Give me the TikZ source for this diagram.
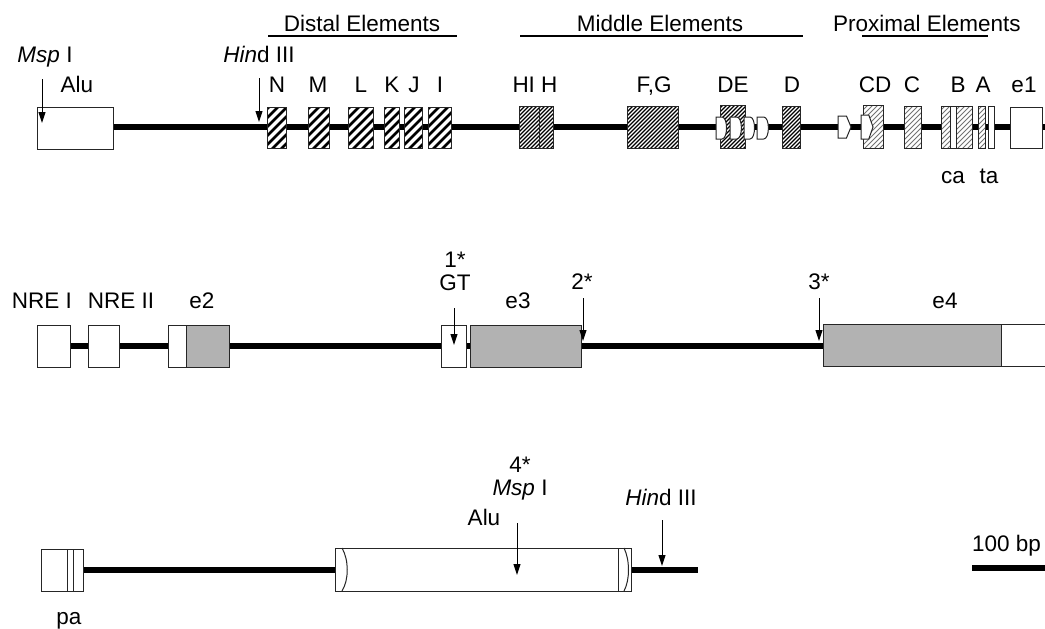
\documentclass[tikz,border=0pt]{standalone}
\usepackage{fontspec}
\setmainfont{Liberation Sans}
\usetikzlibrary{arrows.meta}
\tikzset{
 lbl/.style={anchor=base, inner sep=0pt, font=\fontsize{22.5}{26}\selectfont},
 backbone/.style={line width=5.5pt},
 box/.style={draw=black!85, line width=1pt},
 wbox/.style={box, fill=white},
 gbox/.style={box, fill=gray!60},
 site/.style={line width=1pt, -{Triangle[length=11pt,width=7pt]}},
 hdistal/.style={line width=2.6pt, black},
 hmiddle/.style={line width=1.1pt, black},
 hprox/.style={line width=1pt, black!55},
 ruler/.style={line width=1.5pt},
}
% #1 x1, #2 y1, #3 x2, #4 y2, #5 spacing, #6 hatch style
\newcommand\hatchrect[6]{%
 \begin{scope}
 \clip (#1,#2) rectangle (#3,#4);
 \fill[white] (#1,#2) rectangle (#3,#4);
 \foreach \i in {0,...,45} {\draw[#6] ({#1-50+\i*#5},#4+2) -- ++(54,-54);}
 \end{scope}
 \draw[box] (#1,#2) rectangle (#3,#4);}
% D-shaped white element: #1 x, #2 width, #3 y top, #4 y bottom
\newcommand\dshape[4]{%
 \filldraw[box, fill=white] (#1,#3) -- ({#1+0.55*#2},#3) .. controls ({#1+#2+1},#3) and ({#1+#2+1},#4) .. ({#1+0.55*#2},#4) -- (#1,#4) -- cycle;}
\newcommand\pshape[4]{%
 \filldraw[box, fill=white] (#1,#3) -- ({#1+0.65*#2},#3) -- ({#1+#2},{(#3+#4)/2}) -- ({#1+0.65*#2},#4) -- (#1,#4) -- cycle;}
\begin{document}
\begin{tikzpicture}[x=1pt, y=-1pt]
\useasboundingbox (0,0) rectangle (1045,629);
\fill[white] (0,0) rectangle (1045,629);

% ---------------- Row 1 ----------------
\node[lbl] (distal) at (362,31) {Distal Elements};
\node[lbl] (middle) at (660,31) {Middle Elements};
\node[lbl] (proximal) at (927,31) {Proximal Elements};
\draw[ruler] (268,36) -- (457,36);
\draw[ruler] (520,36) -- (803,36);
\draw[ruler] (862,36) -- (988,36);

\draw[backbone] (113,127) -- (1050,127);
\filldraw[wbox] (37,107) rectangle (113,149);

% distal
\hatchrect{267}{107}{286}{148}{9}{hdistal}
\hatchrect{308}{107}{329}{148}{9}{hdistal}
\hatchrect{348}{107}{373}{148}{9}{hdistal}
\hatchrect{384}{107}{399}{148}{9}{hdistal}
\hatchrect{404}{107}{422}{148}{9}{hdistal}
\hatchrect{428}{107}{451}{148}{9}{hdistal}
% middle
\hatchrect{519}{106}{553}{148}{4}{hmiddle}
\draw[box] (539,106) -- (539,148);
\hatchrect{627}{106}{678}{148}{4}{hmiddle}
\hatchrect{720}{105}{745}{148}{4}{hmiddle}
\dshape{716}{11}{117}{139}
\dshape{730}{12}{117}{139}
\dshape{744}{11}{117}{139}
\dshape{757}{12}{117}{139}
\hatchrect{782}{106}{800}{148}{4}{hmiddle}
% proximal
\pshape{838}{13}{116}{138}
\hatchrect{863}{105}{883}{148}{5}{hprox}
\pshape{861}{12}{115}{139}
\hatchrect{904}{106}{921}{148}{5}{hprox}
\hatchrect{941}{106}{972}{148}{5}{hprox}
\filldraw[wbox] (950,106) rectangle (956,148);
\hatchrect{978}{106}{985}{148}{5}{hprox}
\filldraw[wbox] (988,106) rectangle (994,148);
\filldraw[wbox] (1010,107) rectangle (1042,148);

\node[lbl] (msp1) at (45,62) {\textit{Msp} I};
\node[lbl] (hind1) at (259,62) {\textit{Hin}d III};
\node[lbl] (alu1) at (77,92) {Alu};
\coordinate (msp1t) at (42,79);  \coordinate (msp1b) at (42,123);
\coordinate (hind1t) at (259,78); \coordinate (hind1b) at (259,122);
\draw[site] (msp1t) -- (msp1b);
\draw[site] (hind1t) -- (hind1b);

\node[lbl] (lN) at (277,92) {N};
\node[lbl] (lM) at (318,92) {M};
\node[lbl] (lL) at (361,92) {L};
\node[lbl] (lK) at (392,92) {K};
\node[lbl] (lJ) at (414,92) {J};
\node[lbl] (lI) at (440,92) {I};
\node[lbl] (lHI) at (535,92) {HI H};
\node[lbl] (lFG) at (654,92) {F,G};
\node[lbl] (lDE) at (733,92) {DE};
\node[lbl] (lD) at (792,92) {D};
\node[lbl] (lCD) at (875,92) {CD};
\node[lbl] (lC) at (912,92) {C};
\node[lbl] (lB) at (958,92) {B};
\node[lbl] (lA) at (983,92) {A};
\node[lbl] (le1) at (1024,92) {e1};
\node[lbl] (lca) at (953,183) {ca};
\node[lbl] (lta) at (989,183) {ta};

% ---------------- Row 2 ----------------
\draw[backbone] (37,346) -- (823,346);
\filldraw[wbox] (37,325) rectangle (70,367);
\filldraw[wbox] (88,325) rectangle (119,367);
\filldraw[wbox] (168,325) rectangle (186,367);
\filldraw[gbox] (186,325) rectangle (229,367);
\filldraw[wbox] (441,325) rectangle (466,367);
\filldraw[gbox] (470,325) rectangle (581,367);
\filldraw[gbox] (823,324) rectangle (1001,366);
\filldraw[wbox] (1001,324) rectangle (1050,366);

\node[lbl] (nre1) at (42,308) {NRE I};
\node[lbl] (nre2) at (121,308) {NRE II};
\node[lbl] (le2) at (202,308) {e2};
\node[lbl] (s1) at (455,267) {1*};
\node[lbl] (gt) at (455,290) {GT};
\node[lbl] (le3) at (518,308) {e3};
\node[lbl] (s2) at (582,289) {2*};
\node[lbl] (s3) at (819,289) {3*};
\node[lbl] (le4) at (945,308) {e4};
\coordinate (gtt) at (454,308); \coordinate (gtb) at (454,345);
\coordinate (s2t) at (583,298); \coordinate (s2b) at (583,341);
\coordinate (s3t) at (819,298); \coordinate (s3b) at (819,341);
\draw[site] (gtt) -- (gtb);
\draw[site] (s2t) -- (s2b);
\draw[site] (s3t) -- (s3b);

% ---------------- Row 3 ----------------
\draw[backbone] (83,570) -- (335,570);
\draw[backbone] (631,570) -- (698,570);
\filldraw[wbox] (41,549) rectangle (83,591);
\draw[box] (67,549) -- (67,591);
\draw[box] (73,549) -- (73,591);
\filldraw[wbox] (335,548) rectangle (631,591);
\draw[box] (342,548) .. controls (349,560) and (349,580) .. (342,591);
\draw[box] (618,548) -- (618,591);
\draw[box] (624,548) .. controls (630,560) and (630,580) .. (624,591);

\node[lbl] (s4) at (520,472) {4*};
\node[lbl] (msp3) at (520,495) {\textit{Msp} I};
\node[lbl] (alu3) at (484,525) {Alu};
\node[lbl] (hind3) at (661,505) {\textit{Hin}d III};
\node[lbl] (pa) at (69,624) {pa};
\coordinate (msp3t) at (517,523); \coordinate (msp3b) at (517,575);
\coordinate (hind3t) at (662,520); \coordinate (hind3b) at (662,566);
\draw[site] (msp3t) -- (msp3b);
\draw[site] (hind3t) -- (hind3b);

\node[lbl, anchor=base west] (scale) at (972,551) {100 bp};
\coordinate (scl) at (972,568); \coordinate (scr) at (1050,568);
\draw[backbone] (scl) -- (scr);
\end{tikzpicture}
\end{document}
